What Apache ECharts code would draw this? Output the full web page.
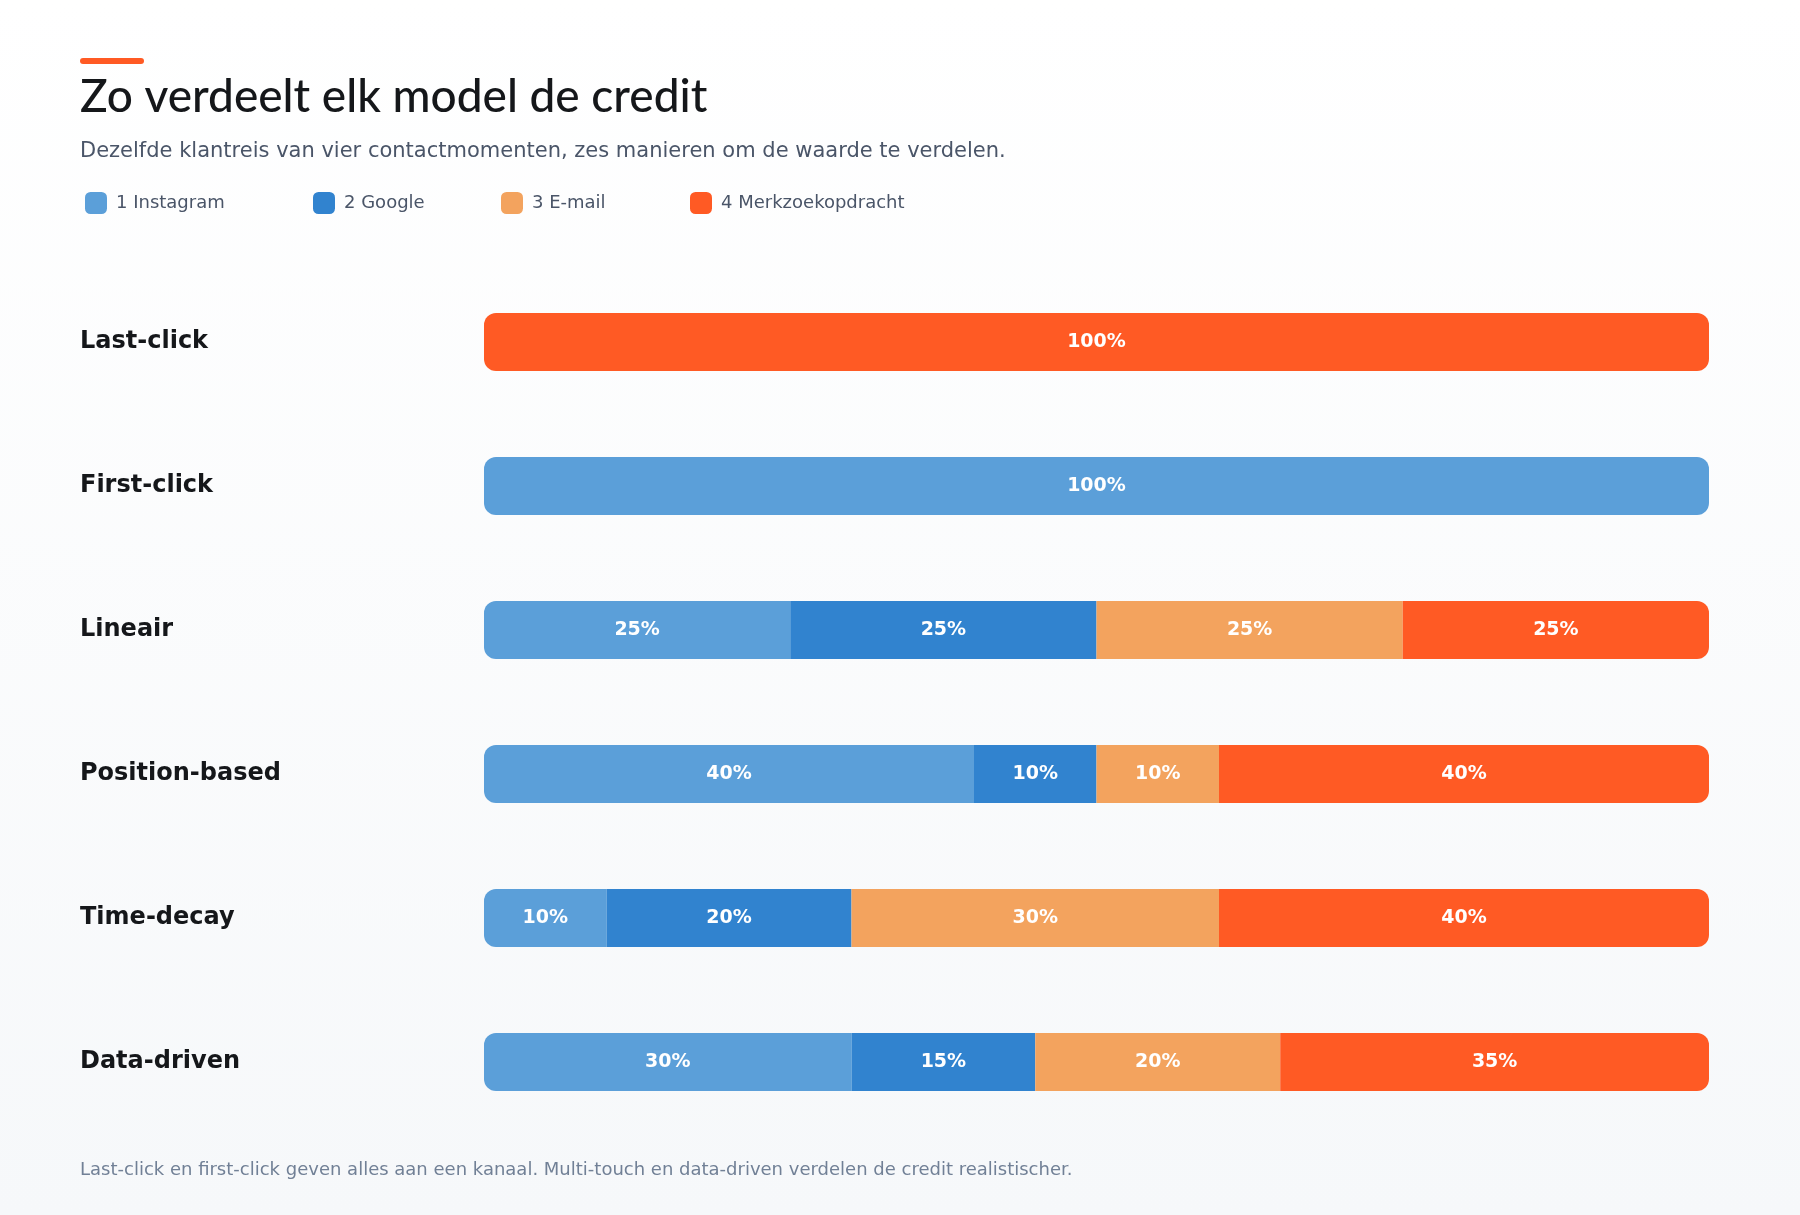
<!DOCTYPE html>
<html><head><meta charset="utf-8">
<script src="https://cdn.jsdelivr.net/npm/echarts@6/dist/echarts.min.js"></script>
<style>html,body{margin:0;padding:0;}#c{width:1800px;height:1215px;background:linear-gradient(#ffffff,#f6f8fa);}</style>
</head><body><div id="c"></div>
<script>
const models = ['Last-click','First-click','Lineair','Position-based','Time-decay','Data-driven'];
const channels = ['1 Instagram','2 Google','3 E-mail','4 Merkzoekopdracht'];
const instagram = [0,100,25,40,10,30];
const google = [0,0,25,10,20,15];
const email = [0,0,25,10,30,20];
const merk = [100,0,25,40,40,35];
const colors = ['#5b9fd9','#3183cf','#f3a35e','#ff5a24'];
const all = [instagram,google,email,merk];
const R = 12;
const series = all.map((arr,si)=>({
  name: channels[si], type:'bar', stack:'t', barWidth:58,
  itemStyle:{color:colors[si]},
  label:{show:true,color:'#fff',fontWeight:'bold',fontSize:19,fontFamily:'DejaVu Sans',
    formatter:p=>p.value>0?p.value+'%':''},
  data: arr.map((v,i)=>{
    let first=all.findIndex(a=>a[i]>0);
    let last=3-[...all].reverse().findIndex(a=>a[i]>0);
    const r=[si===first?R:0, si===last?R:0, si===last?R:0, si===first?R:0];
    return {value:v,itemStyle:{borderRadius:r}};
  })
}));
const legLeft=[80,308,496,685];
const chart = echarts.init(document.getElementById('c'));
chart.setOption({
  animation:false,
  grid:{left:484,right:91,top:270,bottom:81},
  xAxis:{type:'value',min:0,max:100,show:false},
  yAxis:{type:'category',data:models,inverse:true,axisLine:{show:false},axisTick:{show:false},
    axisLabel:{align:'left',margin:404,fontSize:24,fontWeight:'bold',color:'#15171a',fontFamily:'DejaVu Sans',padding:[0,0,8,0]}},
  legend: channels.map((c,i)=>({data:[c],left:legLeft[i],top:187,itemWidth:22,itemHeight:22,icon:'roundRect',
    itemGap:0,textStyle:{fontSize:18,color:'#4a5568',fontFamily:'DejaVu Sans',padding:[0,0,0,4]},selectedMode:false})),
  graphic:[
    {type:'rect',left:80,top:58,shape:{width:64,height:6,r:3},style:{fill:'#ff5a24'}},
    {type:'text',left:80,top:74,style:{text:'Zo verdeelt elk model de credit',font:'500 46px Lato, "Open Sans", sans-serif',fill:'#15171a'}},
    {type:'text',left:80,top:141,style:{text:'Dezelfde klantreis van vier contactmomenten, zes manieren om de waarde te verdelen.',font:'21px "DejaVu Sans"',fill:'#4a5568'}},
    {type:'text',left:80,top:1161,style:{text:'Last-click en first-click geven alles aan een kanaal. Multi-touch en data-driven verdelen de credit realistischer.',font:'18px "DejaVu Sans"',fill:'#718096'}}
  ],
  series
});
</script></body></html>
